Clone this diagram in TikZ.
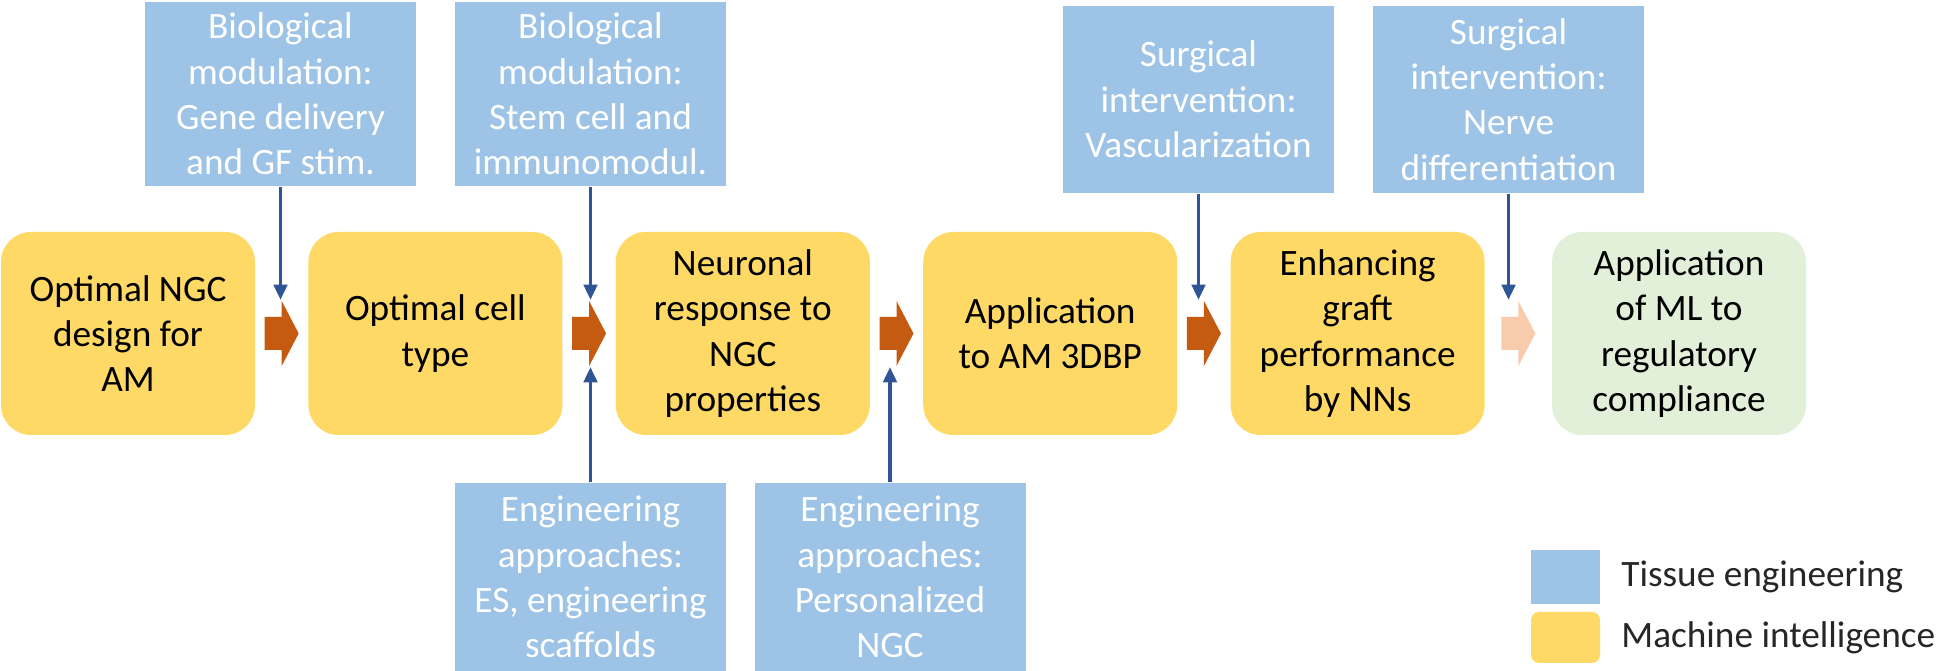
\documentclass[tikz,border=0pt]{standalone}
\usepackage{fontspec}
\setmainfont{Carlito}
\usetikzlibrary{positioning,calc,arrows.meta}

\begin{document}
\begin{tikzpicture}[
  font=\fontsize{10.6}{12.9}\selectfont,
  mistep/.style={rounded corners=0.3cm, fill=miyellow, text=black, align=center,
    minimum width=2.54cm, minimum height=2.03cm, inner sep=0pt},
  tebox/.style={fill=teblue, text=white, align=center,
    minimum width=2.71cm, inner sep=0pt},
  tearrow/.style={draw=tearrowcol, line width=1.1pt,
    -{Triangle[width=3.8pt,length=4.4pt]}},
  keylabel/.style={inner sep=0pt, text=black!85, anchor=west}
]

\definecolor{teblue}{RGB}{157,195,230}
\definecolor{miyellow}{RGB}{255,217,102}
\definecolor{regcol}{RGB}{226,240,217}
\definecolor{flowcol}{RGB}{197,90,17}
\definecolor{flowpale}{RGB}{248,203,173}
\definecolor{tearrowcol}{RGB}{47,85,151}

\useasboundingbox (0,0) rectangle (19.46,-6.71);

% ---------------- helper: block arrow between two steps ----------------
\newcommand{\flowarrow}[4]{%
  \coordinate (#4) at ($(#1.east)!0.5!(#2.west)$);
  \fill[#3] (#4) ++(-0.17,0.165) -- ++(0.17,0) -- ++(0,0.16) -- ++(0.17,-0.325)
    -- ++(-0.17,-0.325) -- ++(0,0.16) -- ++(-0.17,0) -- cycle;
  \coordinate (#4-up) at ($(#4)+(0,0.335)$);
  \coordinate (#4-dn) at ($(#4)+(0,-0.335)$);
}

% =========== machine intelligence steps ===========
\node[mistep] (optngc) at (1.28,-3.335) {Optimal NGC\\design for\\AM};
\node[mistep, right=0.52cm of optngc] (celltype) {Optimal cell\\type};
\node[mistep, right=0.52cm of celltype] (neuresp) {Neuronal\\response to\\NGC\\properties};
\node[mistep, right=0.52cm of neuresp] (amprint) {Application\\to AM 3DBP};
\node[mistep, right=0.52cm of amprint] (graftnn) {Enhancing\\graft\\performance\\by NNs};
\node[mistep, fill=regcol, right=0.66cm of graftnn] (mlreg) {Application\\of ML to\\regulatory\\compliance};

\flowarrow{optngc}{celltype}{flowcol}{a12}
\flowarrow{celltype}{neuresp}{flowcol}{a23}
\flowarrow{neuresp}{amprint}{flowcol}{a34}
\flowarrow{amprint}{graftnn}{flowcol}{a45}
\flowarrow{graftnn}{mlreg}{flowpale}{a56}

% =========== tissue engineering inputs ===========
\node[tebox, minimum height=1.84cm] (genegf) at (2.805,-0.94)
  {Biological\\modulation:\\Gene delivery\\and GF stim.};
\node[tebox, minimum height=1.84cm] (stemimm) at (5.905,-0.94)
  {Biological\\modulation:\\Stem cell and\\immunomodul.};
\node[tebox, minimum height=1.87cm] (vascul) at (11.985,-0.995)
  {Surgical\\intervention:\\Vascularization};
\node[tebox, minimum height=1.87cm] (nervdif) at (15.085,-0.995)
  {Surgical\\intervention:\\Nerve\\differentiation};
\node[tebox, minimum height=1.88cm] (esscaf) at (5.905,-5.77)
  {Engineering\\approaches:\\ES, engineering\\scaffolds};
\node[tebox, minimum height=1.88cm] (persngc) at (8.90,-5.77)
  {Engineering\\approaches:\\Personalized\\NGC};

\draw[tearrow] (genegf.south) -- (genegf.south |- a12-up);
\draw[tearrow] (stemimm.south) -- (stemimm.south |- a23-up);
\draw[tearrow] (esscaf.north) -- (esscaf.north |- a23-dn);
\draw[tearrow] (persngc.north) -- (persngc.north |- a34-dn);
\draw[tearrow] (vascul.south) -- (vascul.south |- a45-up);
\draw[tearrow] (nervdif.south) -- (nervdif.south |- a56-up);

% =========== legend ===========
\node[tebox, minimum width=0.69cm, minimum height=0.54cm] (keyte) at (15.655,-5.77) {};
\node[mistep, rounded corners=0.08cm, minimum width=0.69cm, minimum height=0.51cm]
  (keymi) at (15.655,-6.375) {};
\node[keylabel, right=0.2cm of keyte] (keyte-lbl) {Tissue engineering};
\node[keylabel, right=0.2cm of keymi] (keymi-lbl) {Machine intelligence};

\end{tikzpicture}
\end{document}
